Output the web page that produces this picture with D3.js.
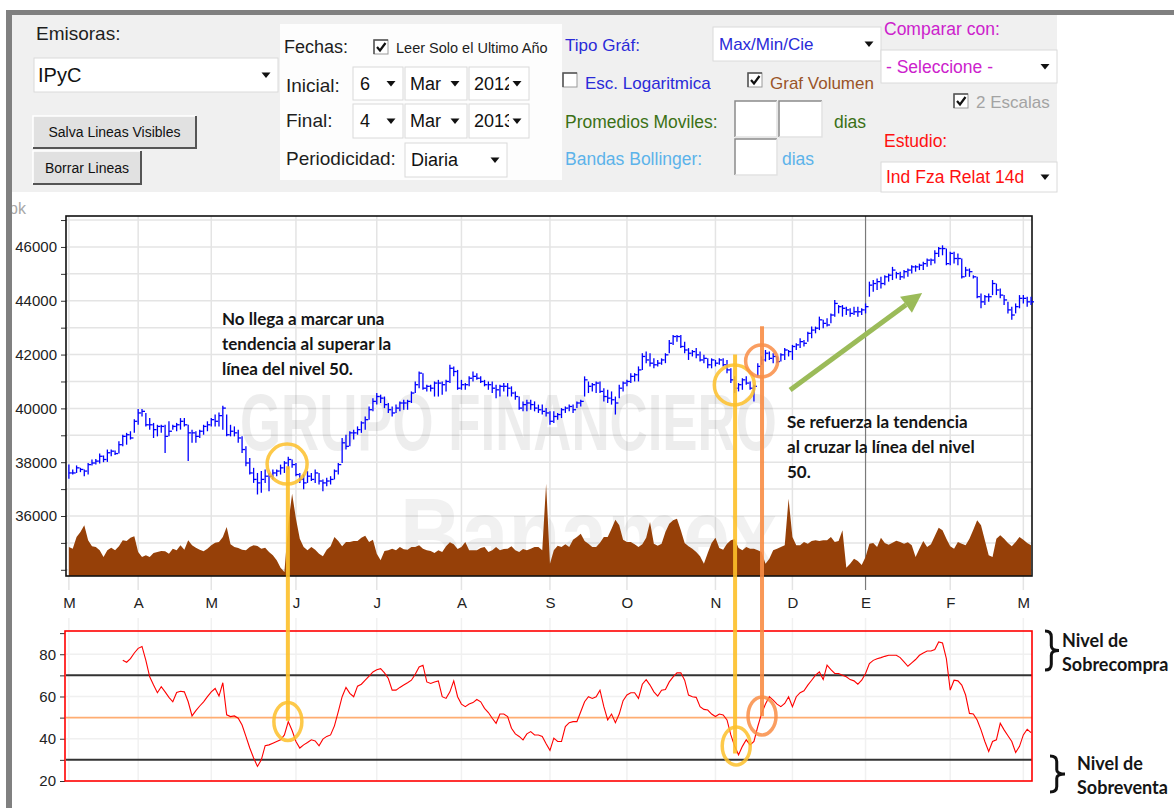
<!DOCTYPE html>
<html><head><meta charset="utf-8">
<script src="https://cdn.jsdelivr.net/npm/d3@7/dist/d3.min.js"></script>
<style>html,body{margin:0;padding:0;background:#fff;overflow:hidden}svg{display:block}</style>
</head><body>
<svg id="chart" width="1174" height="808"></svg>
<script>
// ---------------- DATA ----------------
const monthLabels = ["M","A","M","J","J","A","S","O","N","D","E","F","M"];
const monthTickIdx = [0,18,37,59,80,102,125,145,168,188,207,229,248];
const yearBreakIdx = 207;

const priceHigh = [
37910,37730,37880,37790,37730,37970,38100,38120,38320,38250,
38470,38470,38430,38780,39020,39090,39150,39600,39980,39980,
39830,39640,39460,39390,39390,39390,39520,39390,39460,39640,
39640,39390,39210,39150,39210,39390,39520,39640,39770,39850,
40100,39770,39390,39330,39210,38960,38590,38160,37790,37600,
37670,37730,37600,37730,37730,37910,38040,38200,38100,37970,
37600,37540,37670,37600,37730,37600,37360,37420,37480,37730,
37970,38900,39020,39150,39210,39330,39520,39700,40070,40380,
40570,40510,40440,40200,40070,40140,40260,40320,40320,40630,
41000,41370,41310,40880,40880,41000,41060,41000,41060,41620,
41560,41430,41060,40940,41190,41370,41310,41190,41060,41000,
41000,40880,40880,40940,40940,40820,40630,40440,40260,40320,
40320,40260,40140,40140,40010,39890,39890,39830,40010,40070,
40140,40140,40260,40320,41190,41000,40940,41000,41000,40750,
40690,40630,40440,40880,41000,41060,41310,41310,41560,42050,
42110,42050,41860,41800,41860,42050,42540,42730,42730,42730,
42480,42240,42170,42240,42110,41990,41860,41860,41800,41860,
41860,41800,41490,41190,40940,41120,41190,41000,40880,41680,
41930,42170,42110,42050,41930,42050,42240,42170,42360,42420,
42610,42540,42850,43040,43040,43410,43290,43350,43530,44030,
43840,43840,43780,43720,43780,43780,43720,43900,44710,44770,
44830,44890,44950,45010,45260,45080,45080,45140,45200,45320,
45320,45380,45450,45570,45570,45880,46000,46060,45940,45820,
45820,45760,45570,45260,45200,44950,44890,44270,44210,44270,
44770,44640,44460,44210,43960,43780,43900,44210,44210,44150,
44150];
const priceLow = [
37380,37540,37600,37630,37480,37540,37880,37910,37950,38000,
38010,38220,38270,38320,38590,38650,38840,39090,39390,39700,
39330,39210,38900,38960,39090,38340,38960,39210,39150,39210,
39330,38040,38720,38720,38900,39020,39150,39330,39330,39330,
39210,38960,38960,38960,38720,38340,37850,37540,37230,36800,
36860,37230,36920,37360,37480,37540,37600,37730,37790,37480,
37230,36990,37230,37300,37230,37170,36920,37110,37170,37360,
37540,37970,38470,38590,38840,39020,39090,39210,39580,39890,
40140,40200,40010,39830,39700,39830,39890,39950,39950,40200,
40570,40750,40690,40630,40630,40440,40440,40510,40630,40940,
41190,40690,40690,40690,40820,41000,41060,40940,40820,40690,
40570,40380,40440,40630,40440,40440,40320,39950,39890,39890,
39950,39890,39830,39770,39700,39390,39460,39580,39640,39830,
39890,39830,40010,40070,40440,40570,40630,40570,40570,40260,
40200,40140,39770,40380,40630,40820,40940,41000,41000,41430,
41680,41560,41490,41560,41620,41680,42050,42360,42480,42240,
42050,41800,41930,41860,41740,41680,41490,41490,41560,41620,
41560,41310,40940,40570,40630,40690,40880,40690,40260,41190,
41620,41740,41800,41680,41680,41740,41800,41930,41800,42170,
42240,42300,42480,42610,42790,42910,42980,43040,43160,43410,
43530,43410,43470,43410,43470,43410,43470,43530,44150,44330,
44400,44460,44580,44710,44770,44830,44770,44830,44890,45010,
45080,45140,45140,45260,45320,45380,45630,45690,45320,45320,
45380,45320,44830,44890,44890,44830,44090,43720,43840,43960,
44210,44210,44090,43840,43530,43290,43530,43720,43900,43780,
43840];
const priceClose = [
37600,37600,37790,37730,37670,37910,37970,38040,38220,38100,
38350,38410,38320,38650,38960,39020,38900,39520,39830,39890,
39390,39390,39210,39330,39330,38960,39150,39330,39390,39520,
39390,39090,39090,38960,39150,39330,39390,39580,39520,39730,
40010,39020,39150,39090,38900,38470,37970,37600,37360,37230,
37360,37480,37480,37600,37670,37790,37970,38100,37910,37540,
37360,37230,37480,37360,37600,37300,37230,37300,37360,37670,
37910,38720,38590,39090,39090,39210,39460,39580,39950,40260,
40440,40380,40140,39950,39830,40010,40200,40200,40260,40570,
40880,41310,40750,40820,40750,40940,40940,40880,41000,41490,
41370,40750,40880,40880,41120,41190,41120,41000,40880,40880,
40750,40690,40820,40820,40750,40570,40440,40010,40140,40200,
40140,40010,39950,39890,39830,39520,39700,39770,39950,40010,
40070,39950,40200,40260,41060,40820,40880,40940,40630,40440,
40380,40320,40200,40750,40940,41000,41190,41250,41430,41930,
41800,41680,41620,41680,41800,41990,42420,42670,42670,42300,
42170,42050,42110,41990,41800,41860,41620,41800,41680,41800,
41620,41430,41060,40750,40880,41060,40940,40750,40820,41560,
41800,42050,41860,41930,41740,41990,42170,42110,42300,42360,
42480,42420,42790,42910,42980,43290,43160,43100,43470,43900,
43780,43720,43660,43530,43590,43590,43660,43780,44580,44640,
44710,44640,44890,44950,45140,45010,44890,45080,45140,45260,
45260,45320,45380,45510,45510,45760,45940,45940,45380,45760,
45570,45570,44890,45140,45080,44890,44150,43960,44150,44150,
44640,44400,44210,44030,43660,43470,43780,44090,44090,43960,
43960];
const volume = [
290,273,390,440,507,357,297,290,257,190,
257,283,257,297,357,350,383,397,240,190,
207,190,230,240,250,247,223,273,257,307,
263,357,307,283,263,247,273,307,333,340,
390,490,317,290,280,263,257,290,307,300,
273,283,240,207,157,83,40,523,823,573,
373,290,257,290,263,223,197,263,297,390,
350,297,340,340,350,350,383,403,340,363,
223,157,250,257,273,257,290,267,263,290,
290,307,273,257,250,230,257,240,297,337,
317,270,290,340,257,257,257,280,290,240,
257,290,257,270,273,297,257,240,270,257,
273,290,290,257,923,123,257,303,290,317,
290,363,390,423,350,323,290,290,333,390,
390,473,563,507,363,340,340,317,290,317,
383,540,323,303,323,440,523,557,573,457,
330,297,273,240,197,123,230,330,383,280,
263,323,357,370,280,257,290,273,273,257,
240,123,173,257,273,290,307,773,390,307,
307,340,323,350,357,350,357,357,390,340,
350,457,83,123,173,150,110,190,323,330,
290,383,330,313,333,353,340,323,337,307,
190,273,350,290,317,400,483,457,373,297,
273,340,323,307,373,463,557,507,357,207,
190,373,407,373,330,297,340,390,363,330,
307];
const rsiStart = 14;
const rsiValues = [
77.1,76.2,77.9,80.6,82.8,83.7,77.1,69.3,65.4,61.8,
64.6,62.2,59.6,57.5,61.9,62.5,62.2,57.5,50.8,53.3,
55.5,57.5,59.9,62.2,63.8,60.2,66.5,51.3,50.5,50.8,
49.7,46.5,41.1,35.6,30.9,26.9,30.0,36.7,37.1,37.9,
38.7,39.5,41.8,48.1,43.9,38.7,35.6,37.1,38.2,39.5,
39.0,36.7,39.8,41.1,41.8,46.1,52.8,59.9,64.3,61.5,
59.9,64.9,65.8,67.7,69.6,71.6,72.7,73.2,71.2,68.5,
63.0,63.0,64.3,65.4,66.5,67.7,70.5,74.0,74.8,66.9,
66.2,66.9,67.4,59.9,59.1,62.2,67.4,59.9,56.4,55.2,
56.4,57.1,58.6,57.5,54.4,52.4,49.7,47.3,51.7,51.7,
50.5,45.0,42.3,41.1,39.5,42.3,43.4,41.8,41.8,41.1,
37.6,34.5,40.3,38.7,38.7,45.8,47.6,48.1,48.1,52.8,
57.5,59.9,59.1,59.9,63.0,55.2,48.9,51.7,47.6,51.7,
58.0,60.7,61.8,61.8,59.1,65.8,68.0,65.4,62.2,60.2,
63.0,63.3,66.9,69.3,71.2,71.2,67.7,60.7,59.9,59.6,
55.2,53.9,53.6,51.7,50.5,51.7,51.3,48.9,41.8,36.4,
32.4,36.4,39.5,37.1,38.7,45.8,52.0,56.4,59.9,58.3,
56.4,55.2,56.7,59.9,55.2,59.9,61.8,62.7,65.4,67.7,
70.1,71.6,68.0,74.8,72.7,70.9,70.9,70.1,69.3,68.0,
67.4,65.8,67.7,70.9,75.6,77.1,77.9,78.4,79.0,79.5,
79.5,79.5,78.4,76.4,74.3,75.9,77.5,79.5,80.6,81.5,
81.5,82.2,85.8,85.3,77.9,63.0,67.7,67.4,65.4,60.7,
52.0,51.7,48.9,44.2,38.7,34.0,38.7,39.5,47.3,44.2,
41.4,38.7,33.5,36.4,41.8,44.5,42.9];
const priceGridTicks = [34000,35000,36000,37000,38000,39000,40000,41000,42000,43000,44000,45000,46000,47000];
const priceLabelTicks = [36000,38000,40000,42000,44000,46000];
const rsiTicks = [20,30,40,50,60,70,80,90];
const rsiLabelTicks = [20,40,60,80];
const rsiGrid = [40,60,80];
const rsiOverbought = 70, rsiMid = 50, rsiOversold = 30;

// annotation anchors (index, price, rsi)
const marks = [
  {color:"#fdc02a", lineI:56.9, circI:56.7, circP:37930, r:20, topP:37850, ellI:56.9, ellR:48.2, lineEndR:48.5},
  {color:"#fdc02a", lineI:173.1, circI:172.9, circP:40870, r:20, topP:42000, ellI:173.4, ellR:36.6, lineEndR:33.0},
  {color:"#f98d45", lineI:180.1, circI:180.0, circP:41760, r:16, topP:43050, ellI:180.1, ellR:50.8, lineEndR:50.6}
];
const arrowFrom = {i:187.4, p:40680}, arrowTo = {i:221.7, p:44290};

// ---------------- SETUP ----------------
const svg = d3.select('#chart');
const SANS = "'Liberation Sans', Arial, sans-serif";
const NOTE = "Lato, 'Open Sans', sans-serif";

svg.append('rect').attr('width',1174).attr('height',808).attr('fill','#fff');

// ---------------- FORM ----------------
const F = svg.append('g');
F.append('rect').attr('x',12).attr('y',15).attr('width',1045).attr('height',177).attr('fill','#f0f0f0');
F.append('rect').attr('x',280).attr('y',24).attr('width',282).attr('height',156).attr('fill','#fdfdfd');
const defs = svg.append('defs');
let clipN = 0;
function label(x,y,t,size,color,clipRight){
  const el = F.append('text').attr('x',x).attr('y',y).text(t)
    .attr('font-family',SANS).attr('font-size',size).attr('fill',color);
  if(clipRight){
    const id='cl'+(clipN++);
    defs.append('clipPath').attr('id',id).append('rect').attr('x',x-2).attr('y',y-size*1.2).attr('width',clipRight-x+2).attr('height',size*1.6);
    el.attr('clip-path',`url(#${id})`);
  }
  return el;
}
function arrowDown(cx,cy){
  F.append('path').attr('d',`M${cx-4.5},${cy-2.5}L${cx+4.5},${cy-2.5}L${cx},${cy+3}Z`).attr('fill','#111');
}
function selectBox(x,y,w,h,t,color,size,tx){
  F.append('rect').attr('x',x).attr('y',y).attr('width',w).attr('height',h).attr('fill','#fff').attr('stroke','#dadada');
  label(x+(tx||6),y+h/2+size*0.36,t,size,color,x+w-20);
  arrowDown(x+w-12,y+h/2);
}
function checkbox(x,y,checked){
  F.append('rect').attr('x',x).attr('y',y).attr('width',14).attr('height',14).attr('fill','#fff').attr('stroke','#9a9a9a');
  F.append('path').attr('d',`M${x},${y+14}V${y}H${x+14}`).attr('fill','none').attr('stroke','#555').attr('stroke-width',1.5);
  if(checked) F.append('path').attr('d',`M${x+3},${y+7}L${x+6},${y+10.5}L${x+11.5},${y+3}`).attr('fill','none').attr('stroke','#111').attr('stroke-width',2.2);
}
function inputBox(x,y,w,h){
  F.append('rect').attr('x',x).attr('y',y).attr('width',w).attr('height',h).attr('fill','#fff');
  F.append('path').attr('d',`M${x},${y+h}V${y}H${x+w}`).attr('fill','none').attr('stroke','#8a8a8a').attr('stroke-width',1.5);
  F.append('path').attr('d',`M${x+w},${y}V${y+h}H${x}`).attr('fill','none').attr('stroke','#e2e2e2').attr('stroke-width',1.5);
}
function button(x,y,w,h,t){
  F.append('rect').attr('x',x).attr('y',y).attr('width',w).attr('height',h).attr('fill','#e1e1e1');
  F.append('path').attr('d',`M${x},${y+h}V${y}H${x+w}`).attr('fill','none').attr('stroke','#ffffff').attr('stroke-width',1.5);
  F.append('path').attr('d',`M${x+w},${y}V${y+h}H${x}`).attr('fill','none').attr('stroke','#555').attr('stroke-width',2);
  F.append('text').attr('x',x+w/2).attr('y',y+h/2+5).attr('text-anchor','middle').text(t)
    .attr('font-family',SANS).attr('font-size',14).attr('fill','#111');
}
label(36,40,'Emisoras:',19,'#1e1e1e');
selectBox(34,58,244,34,'IPyC','#111',20,4);
button(33,116,163,32,'Salva Lineas Visibles');
button(33,151,108,33,'Borrar Lineas');

label(284,53,'Fechas:',18,'#1e1e1e');
checkbox(374,40,true);
label(396,53,'Leer Solo el Ultimo Año',14.5,'#1e1e1e');
label(286,92,'Inicial:',19,'#1e1e1e');
selectBox(353,67,50,33,'6','#111',18,7);
selectBox(405,67,62,33,'Mar','#111',18,5);
selectBox(469,67,60,33,'2012','#111',18,5);
label(286,127,'Final:',19,'#1e1e1e');
selectBox(353,104,50,34,'4','#111',18,7);
selectBox(405,104,62,34,'Mar','#111',18,5);
selectBox(469,104,60,34,'2013','#111',18,5);
label(286,165,'Periodicidad:',19,'#1e1e1e');
selectBox(405,143,102,34,'Diaria','#111',18,6);

label(565,51,'Tipo Gráf:',17,'#2a2ad8');
selectBox(713,27,168,34,'Max/Min/Cie','#2a2ad8',17,6);
checkbox(563,73,false);
label(585,89,'Esc. Logaritmica',17,'#2a2ad8',711);
checkbox(748,73,true);
label(770,89,'Graf Volumen',17,'#9a5428');
label(565,128,'Promedios Moviles:',17.5,'#3b7016');
inputBox(735,101,42,36); inputBox(779,101,43,36);
label(834,128,'dias',17.5,'#3b7016');
label(565,165,'Bandas Bollinger:',17.5,'#5cb3ea');
inputBox(735,139,42,36);
label(782,165,'dias',17.5,'#5cb3ea');

label(884,35,'Comparar con:',17.5,'#cc22cc');
selectBox(881,50,176,33,'- Seleccione -','#cc22cc',17.5,5);
checkbox(954,94,true);
label(976,108,'2 Escalas',17,'#a3a3a3');
label(884,147,'Estudio:',17.5,'#ff1010');
selectBox(881,162,176,30,'Ind Fza Relat 14d','#ff1010',17.5,5);

svg.append('text').attr('x',9).attr('y',214).text('pk').attr('font-family',SANS).attr('font-size',16).attr('fill','#a8a8a8');

// ---------------- SCALES ----------------
const x = d3.scaleLinear().domain([-0.75, 250.25]).range([66,1032]);
const y = d3.scaleLinear().domain([33770,47150]).range([576,216]);
const yv = d3.scaleLinear().domain([0,1200]).range([576,456]);
const yr = d3.scaleLinear().domain([20,91]).range([781,631]);

// ---------------- MAIN CHART ----------------
const M = svg.append('g');
M.selectAll('line.hg').data(priceGridTicks).join('line')
  .attr('x1',66).attr('x2',1032).attr('y1',d=>y(d)).attr('y2',d=>y(d)).attr('stroke','#e4e4e4').attr('stroke-width',1.5);
M.selectAll('line.vg').data(monthTickIdx).join('line')
  .attr('x1',d=>x(d)).attr('x2',d=>x(d)).attr('y1',216).attr('y2',590)
  .attr('stroke',d=>d===yearBreakIdx?'#7a7a7a':'#e4e4e4').attr('stroke-width',d=>d===yearBreakIdx?1.2:1.5);

// watermark
M.append('text').attr('transform','translate(240,450) scale(0.66,1)').text('GRUPO FINANCIERO')
  .attr('font-family',SANS).attr('font-weight','bold').attr('font-size',80).attr('fill','#000').attr('opacity',0.065);
M.append('text').attr('transform','translate(400,572) scale(0.8,1)').text('Banamex')
  .attr('font-family',SANS).attr('font-weight','bold').attr('font-size',106).attr('fill','#000').attr('opacity',0.05);

// volume
const vArea = d3.area().x((d,i)=>x(i)).y0(yv(0)).y1(d=>yv(d));
M.append('path').datum(volume).attr('d',vArea).attr('fill','#964008');

// axes
const yAxis = d3.axisLeft(y).tickValues(priceGridTicks).tickSize(5).tickPadding(4)
  .tickFormat(d=>priceLabelTicks.includes(d)?String(d):'');
const ya = M.append('g').attr('transform','translate(66,0)').call(yAxis);
ya.select('.domain').remove();
ya.selectAll('line').attr('stroke','#333');
ya.selectAll('text').attr('font-family',SANS).attr('font-size',15).attr('fill','#222');

const xAxis = d3.axisBottom(x).tickValues(monthTickIdx).tickSize(0).tickPadding(21)
  .tickFormat((d,i)=>monthLabels[i]);
const xa = M.append('g').attr('transform','translate(0,576)').call(xAxis);
xa.select('.domain').remove();
xa.selectAll('text').attr('font-family',SANS).attr('font-size',15).attr('fill','#222');

// frame
M.append('rect').attr('x',66).attr('y',216).attr('width',966).attr('height',360).attr('fill','none').attr('stroke','#111').attr('stroke-width',1.6);

// price bars (High / Low / Close)
const bars = M.append('g').attr('stroke','#0000ff').attr('stroke-width',1.3);
bars.selectAll('line.hl').data(priceHigh).join('line')
  .attr('x1',(d,i)=>x(i)).attr('x2',(d,i)=>x(i)).attr('y1',d=>y(d)).attr('y2',(d,i)=>y(priceLow[i]));
bars.selectAll('line.cl').data(priceClose).join('line')
  .attr('x1',(d,i)=>x(i)).attr('x2',(d,i)=>x(i)+3).attr('y1',d=>y(d)).attr('y2',d=>y(d));

// ---------------- RSI PANEL ----------------
const R = svg.append('g');
R.selectAll('line.rv').data(monthTickIdx).join('line')
  .attr('x1',d=>x(d)).attr('x2',d=>x(d)).attr('y1',618).attr('y2',781).attr('stroke','#f1f1f1').attr('stroke-width',1.5);
R.selectAll('line.rh').data(rsiGrid).join('line')
  .attr('x1',66).attr('x2',1032).attr('y1',d=>yr(d)).attr('y2',d=>yr(d)).attr('stroke','#f0f0f0').attr('stroke-width',1.5);
R.selectAll('line.lv').data([rsiOverbought,rsiOversold]).join('line')
  .attr('x1',66).attr('x2',1032).attr('y1',d=>yr(d)).attr('y2',d=>yr(d)).attr('stroke','#333').attr('stroke-width',2);
R.append('line').attr('x1',66).attr('x2',1032).attr('y1',yr(rsiMid)).attr('y2',yr(rsiMid)).attr('stroke','#ffad72').attr('stroke-width',1.6);

const rAxis = d3.axisLeft(yr).tickValues(rsiTicks).tickSize(5).tickPadding(4)
  .tickFormat(d=>rsiLabelTicks.includes(d)?String(d):'');
const ra = R.append('g').attr('transform','translate(65,0)').call(rAxis);
ra.select('.domain').remove();
ra.selectAll('line').attr('stroke','#333');
ra.selectAll('text').attr('font-family',SANS).attr('font-size',15).attr('fill','#222');

R.append('rect').attr('x',65).attr('y',631).attr('width',967).attr('height',150).attr('fill','none').attr('stroke','#ff0000').attr('stroke-width',1.6);
const rLine = d3.line().x((d,k)=>x(k+rsiStart)).y(d=>yr(d));
R.append('path').datum(rsiValues).attr('d',rLine).attr('fill','none').attr('stroke','#ff0000').attr('stroke-width',1.1);

// ---------------- ANNOTATIONS ----------------
const A = svg.append('g');
marks.forEach(m=>{
  A.append('line').attr('x1',x(m.lineI)).attr('x2',x(m.lineI)).attr('y1',y(m.topP)).attr('y2',yr(m.lineEndR))
    .attr('stroke',m.color).attr('stroke-width',4).attr('opacity',0.9);
  A.append('circle').attr('cx',x(m.circI)).attr('cy',y(m.circP)).attr('r',m.r)
    .attr('fill','none').attr('stroke',m.color).attr('stroke-width',3.5).attr('opacity',0.85);
  A.append('ellipse').attr('cx',x(m.ellI)).attr('cy',yr(m.ellR)).attr('rx',14).attr('ry',19)
    .attr('fill','none').attr('stroke',m.color).attr('stroke-width',3.5).attr('opacity',0.85);
});
// green arrow
{
  const x0=x(arrowFrom.i), y0=y(arrowFrom.p), x1=x(arrowTo.i), y1=y(arrowTo.p);
  const ang=Math.atan2(y1-y0,x1-x0), L=20, Wd=10;
  const bx=x1-L*Math.cos(ang), by=y1-L*Math.sin(ang);
  A.append('line').attr('x1',x0).attr('y1',y0).attr('x2',bx).attr('y2',by).attr('stroke','#9bbb59').attr('stroke-width',5);
  A.append('path').attr('d',`M${x1},${y1}L${bx+Wd*Math.sin(ang)},${by-Wd*Math.cos(ang)}L${bx-Wd*Math.sin(ang)},${by+Wd*Math.cos(ang)}Z`).attr('fill','#9bbb59');
}
function note(x0,ys,lines,size){
  lines.forEach((t,k)=>A.append('text').attr('x',x0).attr('y',ys[k]).text(t)
    .attr('font-family',NOTE).attr('font-weight','bold').attr('font-size',size).attr('fill','#151515'));
}
note(222,[325,350,375],['No llega a marcar una','tendencia al superar la','línea del nivel 50.'],17);
note(787,[428,453,478],['Se refuerza la tendencia','al cruzar la línea del nivel','50.'],17);
note(1062,[647,671],['Nivel de','Sobrecompra'],18);
note(1077,[770,794],['Nivel de','Sobreventa'],18);
function brace(x0,y0,y1,w){
  const h=y1-y0, ym=(y0+y1)/2, xm=x0+w*0.45;
  return `M${x0},${y0}Q${xm},${y0} ${xm},${y0+h*0.15}L${xm},${ym-h*0.12}Q${xm},${ym} ${x0+w},${ym}Q${xm},${ym} ${xm},${ym+h*0.12}L${xm},${y1-h*0.15}Q${xm},${y1} ${x0},${y1}`;
}
A.append('path').attr('d',brace(1045,631,670,14)).attr('fill','none').attr('stroke','#111').attr('stroke-width',3);
A.append('path').attr('d',brace(1050,756,792,15)).attr('fill','none').attr('stroke','#111').attr('stroke-width',3);

// window frame bars
svg.append('rect').attr('x',6).attr('y',10).attr('width',1168).attr('height',5).attr('fill','#808080');
svg.append('rect').attr('x',6).attr('y',10).attr('width',6).attr('height',798).attr('fill','#808080');
</script></body></html>
